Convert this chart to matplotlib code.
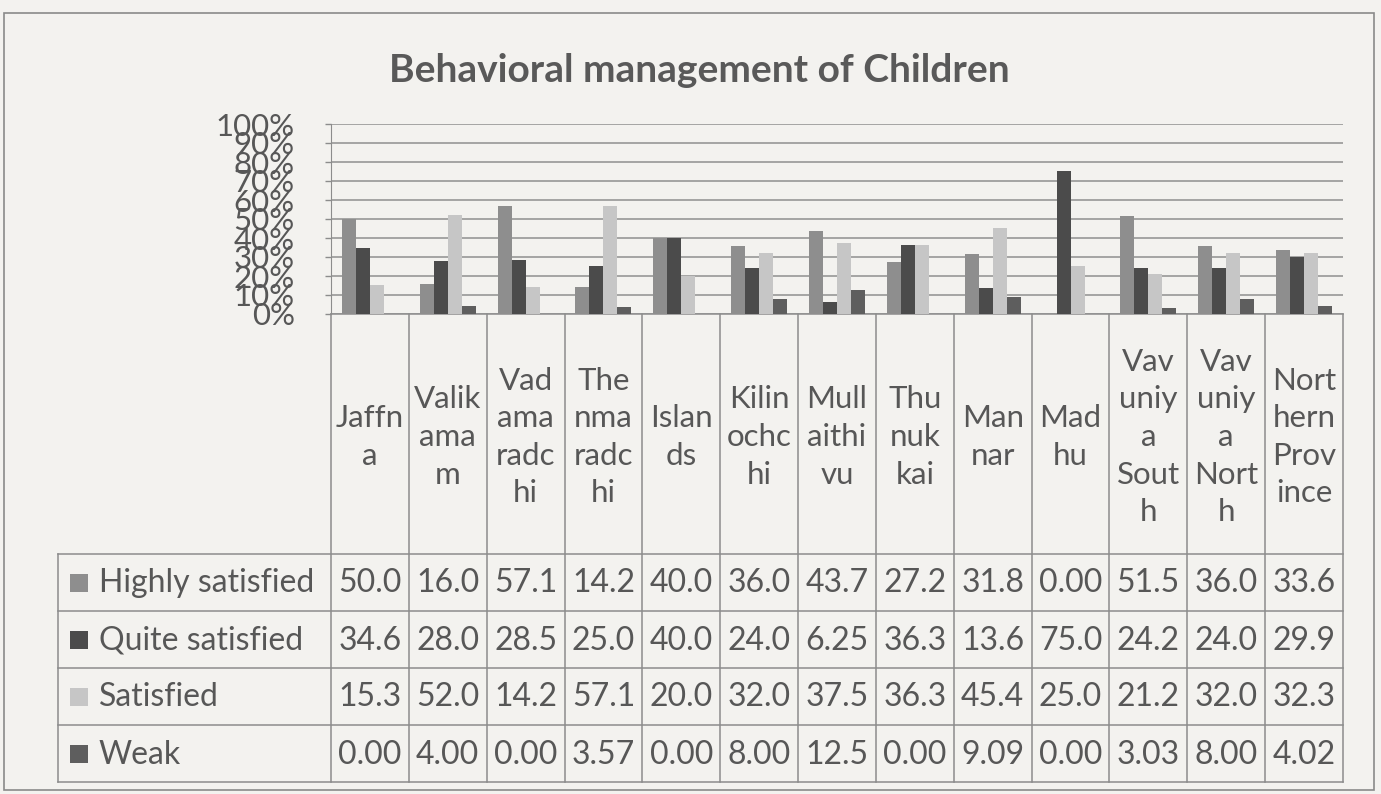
import matplotlib
matplotlib.use("Agg")
import matplotlib.pyplot as plt
import numpy as np

# ---------------- data ----------------
title = "Behavioral management of Children"
districts = ["Jaffn\na", "Valik\nama\nm", "Vad\nama\nradc\nhi", "The\nnma\nradc\nhi",
             "Islan\nds", "Kilin\nochc\nhi", "Mull\naithi\nvu", "Thu\nnuk\nkai",
             "Man\nnar", "Mad\nhu", "Vav\nuniy\na\nSout\nh", "Vav\nuniy\na\nNort\nh",
             "Nort\nhern\nProv\nince"]
series_names = ["Highly satisfied", "Quite satisfied", "Satisfied", "Weak"]
highly_satisfied = [50.0, 16.0, 57.1, 14.2, 40.0, 36.0, 43.7, 27.2, 31.8, 0.00, 51.5, 36.0, 33.6]
quite_satisfied = [34.6, 28.0, 28.5, 25.0, 40.0, 24.0, 6.25, 36.3, 13.6, 75.0, 24.2, 24.0, 29.9]
satisfied = [15.3, 52.0, 14.2, 57.1, 20.0, 32.0, 37.5, 36.3, 45.4, 25.0, 21.2, 32.0, 32.3]
weak = [0.00, 4.00, 0.00, 3.57, 0.00, 8.00, 12.5, 0.00, 9.09, 0.00, 3.03, 8.00, 4.02]
table_text = [
    ["50.0", "16.0", "57.1", "14.2", "40.0", "36.0", "43.7", "27.2", "31.8", "0.00", "51.5", "36.0", "33.6"],
    ["34.6", "28.0", "28.5", "25.0", "40.0", "24.0", "6.25", "36.3", "13.6", "75.0", "24.2", "24.0", "29.9"],
    ["15.3", "52.0", "14.2", "57.1", "20.0", "32.0", "37.5", "36.3", "45.4", "25.0", "21.2", "32.0", "32.3"],
    ["0.00", "4.00", "0.00", "3.57", "0.00", "8.00", "12.5", "0.00", "9.09", "0.00", "3.03", "8.00", "4.02"],
]
y_ticks = [0, 10, 20, 30, 40, 50, 60, 70, 80, 90, 100]
y_ticklabels = ["0%", "10%", "20%", "30%", "40%", "50%", "60%", "70%", "80%", "90%", "100%"]

# ---------------- style ----------------
colors = ["#8e8e8e", "#4b4b4b", "#c6c6c6", "#5e5e5e"]
bg = "#f3f2ef"
txt = "#575757"
line_c = "#8c8c8c"
FONT = "Lato"
plt.rcParams["font.family"] = [FONT, "DejaVu Sans"]

W, H = 1381, 794
fig = plt.figure(figsize=(W / 100, H / 100), dpi=100, facecolor=bg)

# overlay axes in pixel coordinates
ov = fig.add_axes([0, 0, 1, 1], facecolor="none")
ov.set_xlim(0, W)
ov.set_ylim(H, 0)
ov.axis("off")

# layout (pixels)
plot_l, plot_r = 331, 1343
plot_t, plot_b = 124, 314
leg_l = 58
row_y = [554, 611, 668, 725, 782]
ncat = len(districts)
col_w = (plot_r - plot_l) / ncat

# outer border
ov.add_patch(plt.Rectangle((4, 13), 1370, 777, fill=False, ec="#8a8a8a", lw=1.2))

# title
ov.text(699, 71, title, ha="center", va="center",
        fontsize=28, fontweight="bold", color="#595959")

# bar axes
ax = fig.add_axes([plot_l / W, 1 - plot_b / H, (plot_r - plot_l) / W, (plot_b - plot_t) / H],
                  facecolor="none")
x = np.arange(ncat)
bw = 0.18
all_series = [highly_satisfied, quite_satisfied, satisfied, weak]
for i, (vals, c) in enumerate(zip(all_series, colors)):
    ax.bar(x + (i - 1.5) * bw, vals, width=bw, color=c, edgecolor="none", zorder=3)
ax.set_xlim(-0.5, ncat - 0.5)
ax.set_ylim(0, 100)
ax.set_yticks(y_ticks)
ax.set_yticklabels(y_ticklabels, fontsize=22.5, color=txt)
ax.tick_params(axis="y", length=4, color=line_c, pad=22, width=1)
ax.set_xticks([])
for s in ["top", "right", "bottom"]:
    ax.spines[s].set_visible(False)
ax.spines["left"].set_color(line_c)
ax.yaxis.grid(True, color="#8f8f8f", lw=1.1, zorder=0)
ax.set_axisbelow(True)

# table lines
lw = 1.1
ov.plot([plot_l, plot_r], [plot_b, plot_b], color=line_c, lw=lw)
for y in row_y:
    ov.plot([leg_l, plot_r], [y, y], color=line_c, lw=lw)
ov.plot([leg_l, leg_l], [row_y[0], row_y[-1]], color=line_c, lw=lw)
for k in range(ncat + 1):
    xx = plot_l + k * col_w
    ov.plot([xx, xx], [plot_b, row_y[-1]], color=line_c, lw=lw)

# category labels
for k, lab in enumerate(districts):
    ov.text(plot_l + (k + 0.5) * col_w, (plot_b + row_y[0]) / 2 + 3, lab,
            ha="center", va="center", fontsize=22.5, color=txt, linespacing=1.42)

# legend keys + names + values
for r, name in enumerate(series_names):
    yc = (row_y[r] + row_y[r + 1]) / 2
    ov.add_patch(plt.Rectangle((70, yc - 9), 18, 18, color=colors[r], ec="none"))
    ov.text(99, yc + 1, name, ha="left", va="center", fontsize=23, color=txt)
    for k in range(ncat):
        ov.text(plot_l + (k + 0.5) * col_w, yc + 1, table_text[r][k],
                ha="center", va="center", fontsize=23, color=txt)

fig.savefig("out.png", dpi=100, facecolor=bg)
